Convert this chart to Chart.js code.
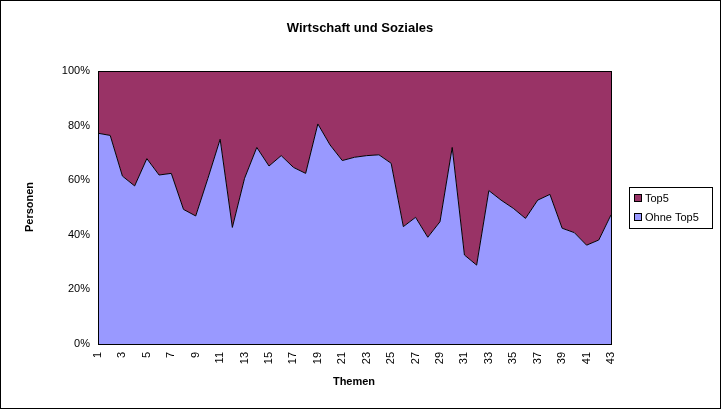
<!DOCTYPE html>
<html>
<head>
<meta charset="utf-8">
<script src="https://cdn.jsdelivr.net/npm/chart.js@4"></script>
<style>
  html, body { margin: 0; padding: 0; background: #fff; }
  #wrap { width: 721px; height: 409px; }
</style>
</head>
<body>
<div id="wrap"><canvas id="areaChart" width="721" height="409"></canvas></div>
<script>
var themen = [];
for (var i = 1; i <= 43; i++) themen.push(String(i));

// Anteil "Ohne Top5" in Prozent
var ohneTop5 = [77.2, 76.4, 61.5, 57.9, 67.9, 61.9, 62.5, 49.3, 46.9, 60.7,
                75.0, 42.7, 60.7, 72.0, 65.2, 69.0, 64.7, 62.5, 80.6, 72.9,
                67.2, 68.4, 69.0, 69.3, 66.2, 43.0, 46.4, 39.1, 44.8, 72.0,
                32.6, 28.9, 56.2, 52.7, 49.7, 46.0, 52.7, 54.8, 42.4, 40.8,
                36.2, 38.1, 47.3];
var top5 = ohneTop5.map(function (v) { return +(100 - v).toFixed(1); });
var yTicks = [0, 20, 40, 60, 80, 100];

var FONT = '"Liberation Sans", Arial, sans-serif';

var decor = {
    id: 'decor',
    afterDraw: function (chart) {
        var c = chart.ctx, a = chart.chartArea;
        c.save();
        c.strokeStyle = '#000';
        c.lineWidth = 1;
        c.strokeRect(a.left + 0.5, a.top + 0.5, a.right - a.left, a.bottom - a.top);
        c.strokeRect(0.5, 0.5, 720, 408);
        c.fillStyle = '#000';
        c.textAlign = 'center';
        c.textBaseline = 'middle';
        c.font = 'bold 13px ' + FONT;
        c.fillText('Wirtschaft und Soziales', 360, 28);
        c.font = 'bold 11px ' + FONT;
        c.fillText('Themen', 354, 382);
        c.save();
        c.translate(30, 207);
        c.rotate(-Math.PI / 2);
        c.fillText('Personen', 0, 0);
        c.restore();
        // Legende
        c.strokeRect(629.5, 187.5, 83, 41);
        c.font = '11px ' + FONT;
        c.textAlign = 'left';
        var items = [['Top5', '#993366'], ['Ohne Top5', '#9999ff']];
        items.forEach(function (it, k) {
            var y = 198 + k * 19;
            c.fillStyle = it[1];
            c.fillRect(635, y - 3, 6, 6);
            c.strokeRect(634.5, y - 3.5, 7, 7);
            c.fillStyle = '#000';
            c.fillText(it[0], 645, y + 1);
        });
        c.restore();
    }
};

new Chart(document.getElementById('areaChart'), {
    type: 'line',
    data: {
        labels: themen,
        datasets: [{
            label: 'Ohne Top5',
            data: ohneTop5,
            backgroundColor: '#9999ff',
            borderColor: '#000',
            borderWidth: 1,
            fill: 'origin',
            pointRadius: 0,
            tension: 0
        }, {
            label: 'Top5',
            data: top5,
            backgroundColor: '#993366',
            borderWidth: 0,
            fill: '-1',
            pointRadius: 0,
            tension: 0
        }]
    },
    options: {
        responsive: false,
        animation: false,
        layout: { padding: { top: 71, left: 0, right: 110, bottom: 0 } },
        plugins: { legend: { display: false }, title: { display: false }, tooltip: { enabled: false } },
        scales: {
            x: {
                offset: false,
                grid: { display: false, drawTicks: true, tickLength: 5, color: '#000' },
                border: { display: true, color: '#000' },
                ticks: {
                    autoSkip: false, maxRotation: 90, minRotation: 90,
                    color: '#000', font: { family: FONT, size: 11 },
                    callback: function (v, i) { return i % 2 === 0 ? themen[i] : ''; }
                },
                afterFit: function (s) { s.height = 65; }
            },
            y: {
                stacked: true,
                min: 0, max: 100,
                afterBuildTicks: function (s) { s.ticks = yTicks.map(function (v) { return { value: v }; }); },
                grid: { display: false, drawTicks: true, tickLength: 5, color: '#000' },
                border: { display: true, color: '#000' },
                ticks: {
                    color: '#000', font: { family: FONT, size: 11 },
                    callback: function (v) { return v + '%'; }
                },
                afterFit: function (s) { s.width = 98; }
            }
        }
    },
    plugins: [decor]
});
</script>
</body>
</html>
